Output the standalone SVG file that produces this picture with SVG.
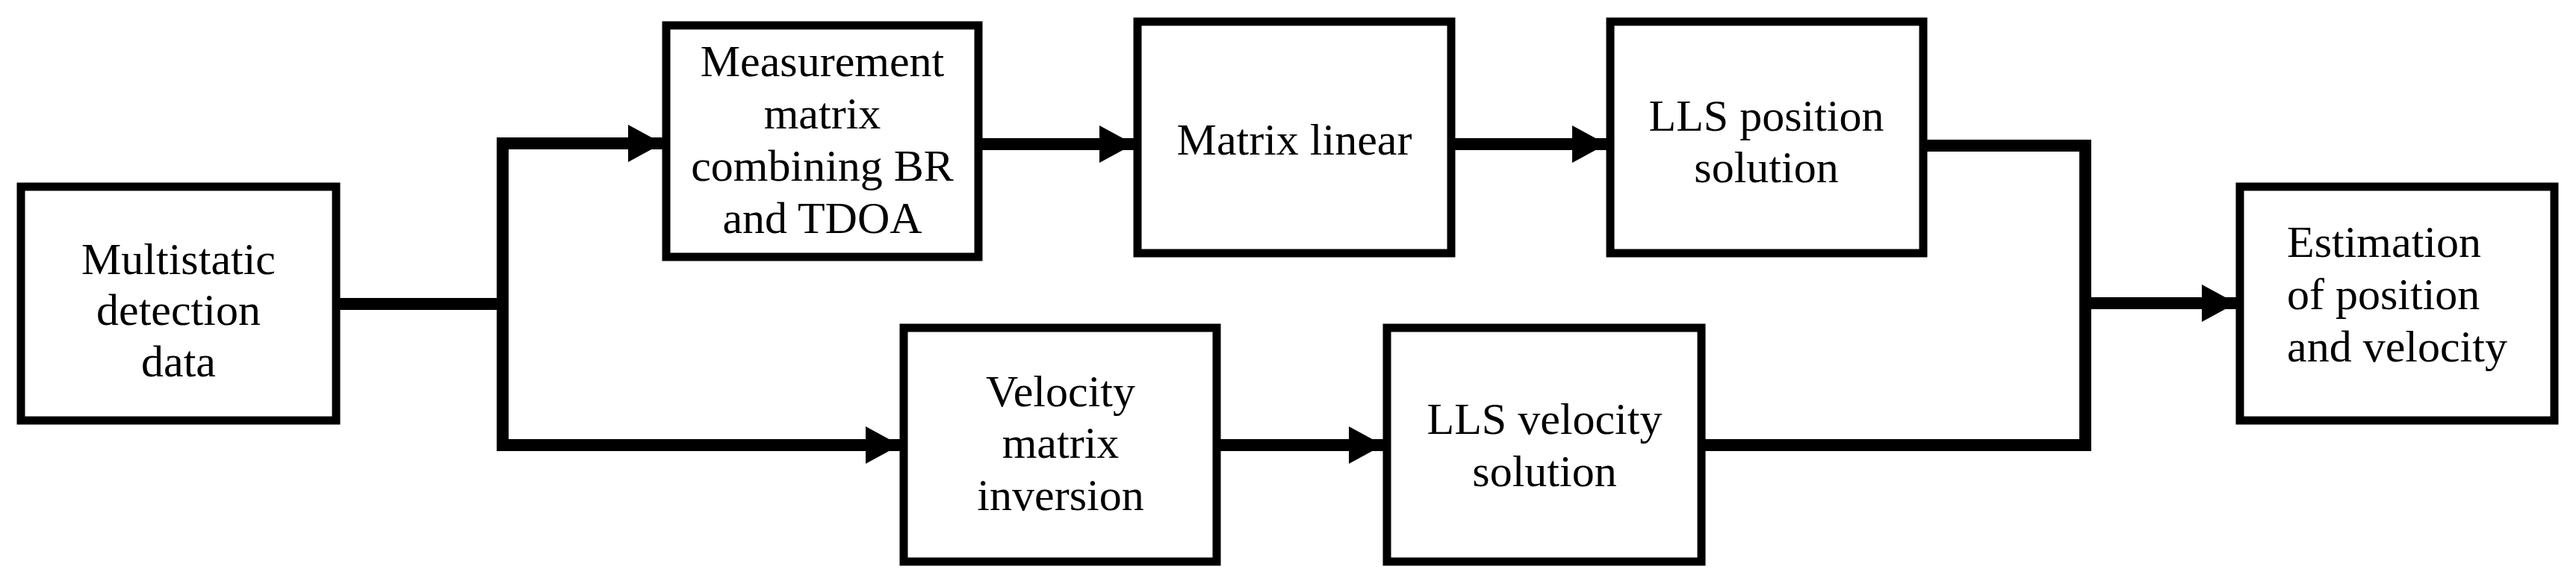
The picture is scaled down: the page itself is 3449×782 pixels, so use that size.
<svg xmlns="http://www.w3.org/2000/svg" width="3449" height="782" viewBox="0 0 3449 782">
<style>
.box{fill:#fff;stroke:#000;stroke-width:11}
.t{font-family:"Liberation Serif",serif;font-size:60px;fill:#000;text-anchor:middle}
.l{text-anchor:start}
.c{fill:none;stroke:#000;stroke-width:16}
</style>
<defs>
<marker id="ah" markerUnits="userSpaceOnUse" markerWidth="46" markerHeight="50" refX="46" refY="25" orient="auto"><path d="M0,0 L46,25 L0,50 Z" fill="#000"/></marker>
</defs>
<g id="connectors">
<path class="c" d="M455,407 H673"/>
<path class="c" d="M673,407 V192 H887" marker-end="url(#ah)"/>
<path class="c" d="M673,407 V596 H1205" marker-end="url(#ah)"/>
<path class="c" d="M1315,193 H1518" marker-end="url(#ah)"/>
<path class="c" d="M1948,193 H2151" marker-end="url(#ah)"/>
<path class="c" d="M1634,596 H1852" marker-end="url(#ah)"/>
<path class="c" d="M2580,195 H2792 V596 H2283"/>
<path class="c" d="M2792,406 H2994" marker-end="url(#ah)"/>
</g>
<g id="n1"><rect class="box" x="28" y="250" width="422" height="313"/>
<text class="t" x="239" y="367">Multistatic</text><text class="t" x="239" y="435">detection</text><text class="t" x="239" y="504">data</text></g>
<g id="n2"><rect class="box" x="892" y="34" width="418" height="310"/>
<text class="t" x="1101" y="102">Measurement</text><text class="t" x="1101" y="172">matrix</text><text class="t" x="1101" y="242">combining BR</text><text class="t" x="1101" y="312">and TDOA</text></g>
<g id="n3"><rect class="box" x="1523" y="29" width="420" height="310"/>
<text class="t" x="1733" y="207">Matrix linear</text></g>
<g id="n4"><rect class="box" x="2156" y="29" width="419" height="310"/>
<text class="t" x="2365" y="175">LLS position</text><text class="t" x="2365" y="244">solution</text></g>
<g id="n5"><rect class="box" x="1210" y="439" width="419" height="313"/>
<text class="t" x="1420" y="544">Velocity</text><text class="t" x="1420" y="613">matrix</text><text class="t" x="1420" y="683">inversion</text></g>
<g id="n6"><rect class="box" x="1857" y="439" width="421" height="313"/>
<text class="t" x="2068" y="581">LLS velocity</text><text class="t" x="2068" y="651">solution</text></g>
<g id="n7"><rect class="box" x="2999" y="250" width="421" height="313"/>
<text class="t l" x="3062" y="344">Estimation</text><text class="t l" x="3062" y="414">of position</text><text class="t l" x="3062" y="484">and velocity</text></g>
</svg>
